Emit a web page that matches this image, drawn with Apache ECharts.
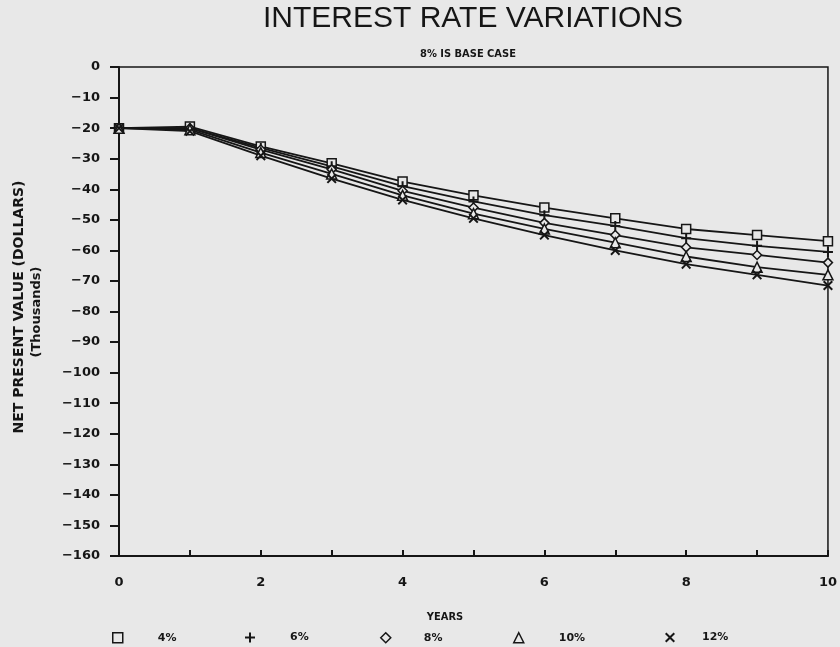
<!DOCTYPE html>
<html><head><meta charset="utf-8">
<script src="https://cdn.jsdelivr.net/npm/echarts@6/dist/echarts.min.js"></script>
<style>html,body{margin:0;padding:0;background:#e8e8e8}#c{width:840px;height:647px}</style>
</head><body><div id="c"></div><script>
const years = [0, 1, 2, 3, 4, 5, 6, 7, 8, 9, 10];
const rate4  = [-20, -19.5, -26, -31.5, -37.5, -42, -46, -49.5, -53, -55, -57];
const rate6  = [-20, -20, -26.5, -32.5, -39, -44, -48.5, -52, -56, -58.5, -60.5];
const rate8  = [-20, -20, -27, -33.5, -40.5, -46, -51, -55, -59, -61.5, -64];
const rate10 = [-20, -20.5, -28, -35, -42, -48, -53, -57.5, -62, -65.5, -68];
const rate12 = [-20, -21, -29, -36.5, -43.5, -49.5, -55, -60, -64.5, -68, -71.5];
const seriesNames = ['4%', '6%', '8%', '10%', '12%'];
const seriesValues = [rate4, rate6, rate8, rate10, rate12];
const titleText = 'INTEREST RATE VARIATIONS';
const subtitleText = '8% IS BASE CASE';
const yAxisTitle = 'NET PRESENT VALUE (DOLLARS)';
const yAxisSub = '(Thousands)';
const xAxisTitle = 'YEARS';

const INK = '#161616';
const BG = '#e8e8e8';
const PLUS = 'path://M4,0H6V4H10V6H6V10H4V6H0V4H4Z';
const CROSS = 'path://M1.4,0L5,3.6L8.6,0L10,1.4L6.4,5L10,8.6L8.6,10L5,6.4L1.4,10L0,8.6L3.6,5L0,1.4Z';
const symbols = [
  {symbol: 'rect', size: 9, fill: BG},
  {symbol: PLUS, size: 10, fill: INK},
  {symbol: 'diamond', size: 9, fill: BG},
  {symbol: 'triangle', size: 10, fill: BG},
  {symbol: CROSS, size: 10, fill: INK}
];
const legendPos = [
  {icon: 117, text: 30},
  {icon: 250, text: 30},
  {icon: 385, text: 28},
  {icon: 518, text: 30},
  {icon: 670, text: 22}
];

const chart = echarts.init(document.getElementById('c'), null, {renderer: 'canvas'});
const series = seriesNames.map((name, i) => ({
  name: name,
  type: 'line',
  data: years.map((y, j) => [y, seriesValues[i][j]]),
  symbol: symbols[i].symbol,
  symbolSize: symbols[i].size,
  showAllSymbol: true,
  lineStyle: {color: INK, width: 1.8},
  itemStyle: {color: symbols[i].fill, borderColor: INK, borderWidth: symbols[i].fill === INK ? 0 : 1.5},
  emphasis: {disabled: true},
  animation: false,
  z: 3
}));

const legends = seriesNames.map((name, i) => ({
  data: [{name: name, icon: symbols[i].symbol}],
  left: legendPos[i].icon - 10,
  top: 627,
  itemWidth: 10,
  itemHeight: 10,
  selectedMode: false,
  itemStyle: {color: symbols[i].fill, borderColor: INK, borderWidth: symbols[i].fill === INK ? 0 : 1.5},
  lineStyle: {opacity: 0},
  textStyle: {color: INK, fontFamily: 'DejaVu Sans', fontWeight: 'bold', fontSize: 11, padding: [0, 0, 0, legendPos[i].text]}
}));

chart.setOption({
  backgroundColor: BG,
  animation: false,
  grid: {left: 119, right: 11, top: 67, bottom: 91, containLabel: false, show: true, borderColor: INK, borderWidth: 1.5, backgroundColor: 'transparent'},
  xAxis: {
    type: 'value', min: 0, max: 10, interval: 1,
    axisLine: {show: true, onZero: false, lineStyle: {color: INK, width: 2}},
    axisTick: {show: true, inside: true, length: 6, lineStyle: {color: INK, width: 2}},
    axisLabel: {formatter: v => (v % 2 === 0 ? String(v) : ''), margin: 20, color: INK, fontFamily: 'DejaVu Sans', fontWeight: 'bold', fontSize: 13},
    splitLine: {show: false}
  },
  yAxis: {
    type: 'value', min: -160, max: 0, interval: 10,
    axisLine: {show: true, onZero: false, lineStyle: {color: INK, width: 2}},
    axisTick: {show: true, inside: false, length: 9, lineStyle: {color: INK, width: 2}},
    axisLabel: {formatter: v => (v < 0 ? '\u2212' + (-v) : String(v)), margin: 19, color: INK, fontFamily: 'DejaVu Sans', fontWeight: 'bold', fontSize: 13},
    splitLine: {show: false}
  },
  legend: legends,
  series: series,
  graphic: [
    {type: 'text', silent: true, style: {text: titleText, x: 473, y: 19, align: 'center', verticalAlign: 'middle', fill: INK, font: 'normal 30px "Liberation Sans", sans-serif'}},
    {type: 'text', silent: true, style: {text: subtitleText, x: 468, y: 54, align: 'center', verticalAlign: 'middle', fill: INK, font: 'bold 11px "DejaVu Sans Condensed", "DejaVu Sans", sans-serif'}},
    {type: 'text', silent: true, x: 19, y: 307, rotation: Math.PI / 2, style: {text: yAxisTitle, x: 0, y: 0, align: 'center', verticalAlign: 'middle', fill: INK, font: 'bold 14px "DejaVu Sans", sans-serif'}},
    {type: 'text', silent: true, x: 37, y: 312, rotation: Math.PI / 2, style: {text: yAxisSub, x: 0, y: 0, align: 'center', verticalAlign: 'middle', fill: INK, font: 'bold 13px "DejaVu Sans", sans-serif'}},
    {type: 'text', silent: true, style: {text: xAxisTitle, x: 445, y: 617, align: 'center', verticalAlign: 'middle', fill: INK, font: 'bold 11px "DejaVu Sans Condensed", "DejaVu Sans", sans-serif'}}
  ]
});
</script></body></html>
